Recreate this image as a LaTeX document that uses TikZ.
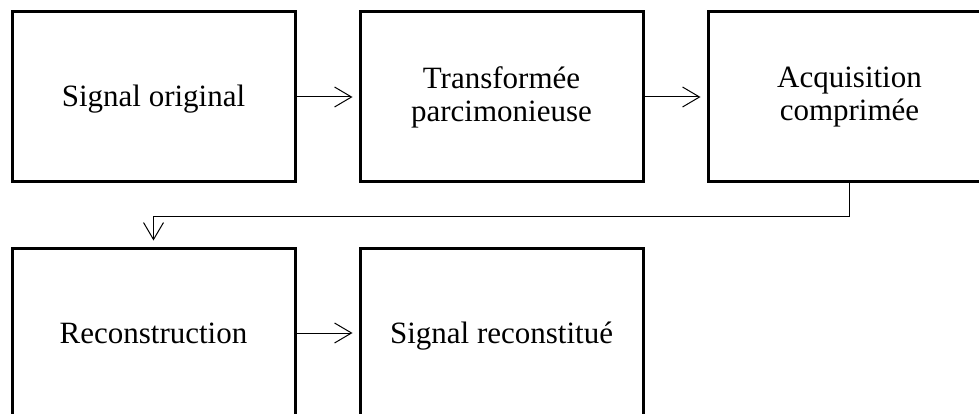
\documentclass[tikz,border=0pt]{standalone}
\usepackage{fontspec}
\setmainfont{Liberation Serif}
\usetikzlibrary{arrows.meta}
\begin{document}
\begin{tikzpicture}[x=1pt,y=-1pt,
  block/.style={draw=black, line width=3pt, minimum width=283pt, minimum height=170pt,
    inner sep=0pt, align=center, font=\fontsize{31}{35}\selectfont},
  oneline/.style={text height=27pt, text depth=7pt},
  flow/.style={line width=1pt, shorten >=6pt,
    -{Straight Barb[length=17pt,width=20pt,line width=1pt]}}]
  \useasboundingbox (0,0) rectangle (979,414);
  \clip (0,0) rectangle (979,414);
  \node[block, oneline] (orig) at (153.5,97) {Signal original};
  \node[block] (trans) at (501.5,97) {\raisebox{-2pt}{Transformée}\\parcimonieuse};
  \node[block] (acq) at (849.5,97) {\raisebox{-2pt}{Acquisition}\\comprimée};
  \node[block, oneline] (rec) at (153.5,333) {Reconstruction};
  \node[block, oneline] (out) at (501.5,333) {Signal reconstitué};
  \draw[flow] (orig) -- (trans);
  \draw[flow] (trans) -- (acq);
  \draw[flow] (acq.south) -- ++(0,33) -| (rec.north);
  \draw[flow] (rec) -- (out);
\end{tikzpicture}
\end{document}
